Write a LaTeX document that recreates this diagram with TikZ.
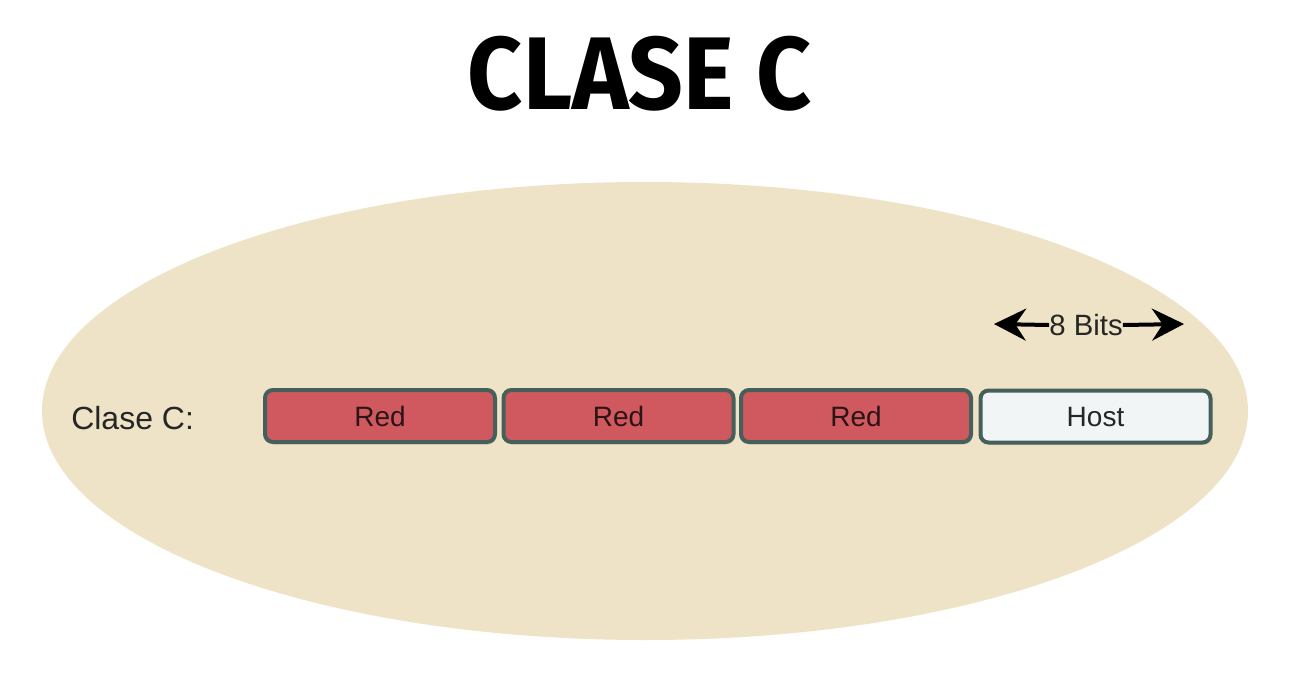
\documentclass[tikz,border=0pt]{standalone}
\usepackage{fontspec}
\usepackage{graphicx}
\setmainfont{Liberation Sans}
\newfontfamily\titlefont{Fira Sans}
\usetikzlibrary{arrows.meta,shadows}
\definecolor{sand}{HTML}{EEE3C6}
\definecolor{redfill}{HTML}{D0595F}
\definecolor{boxline}{HTML}{45605B}
\definecolor{hostfill}{HTML}{F1F5F5}
\definecolor{txt}{HTML}{262626}
\definecolor{redtxt}{HTML}{2A1416}
\tikzset{
  field/.style={rectangle, rounded corners=6pt, line width=3pt, draw=boxline,
    minimum width=172.5pt, minimum height=39pt, inner sep=0pt,
    font=\fontsize{21}{24}\selectfont, text=txt,
    drop shadow={opacity=0.18, shadow xshift=1pt, shadow yshift=-2pt}},
  redfield/.style={field, fill=redfill, text=redtxt},
  hostfield/.style={field, fill=hostfill},
  label/.style={font=\fontsize{24}{28}\selectfont, text=txt, inner sep=0pt},
  bitarrow/.style={line width=3pt, draw=black, -{Stealth[length=24pt,width=24pt,inset=8pt]}}
}
\begin{document}
\begin{tikzpicture}[x=0.75pt,y=-0.75pt]
\useasboundingbox (0,0) rectangle (1298,693);
\fill[white] (0,0) rectangle (1298,693);
% background ellipse
\fill[sand] (645,411) ellipse [x radius=603, y radius=229];
% title
\node[inner sep=0pt] (title) at (640,74) {\resizebox{258pt}{55pt}{\titlefont\bfseries CLASE C}};
% label
\node[label, anchor=west] (lab) at (71,418) {Clase C:};
% fields
\node[redfield] (r1) at (380,416) {Red};
\node[redfield] (r2) at (618.5,416) {Red};
\node[redfield] (r3) at (856,416) {Red};
\node[hostfield] (h) at (1095.5,416.5) {Host};
% 8 bits
\node[label, font=\fontsize{22}{26}\selectfont] (bits) at (1086,325) {8 Bits};
\coordinate (lt) at (994,324);
\coordinate (rt) at (1184,324);
\draw[bitarrow] (bits.west) -- (lt);
\draw[bitarrow] (bits.east) -- (rt);
\end{tikzpicture}
\end{document}
